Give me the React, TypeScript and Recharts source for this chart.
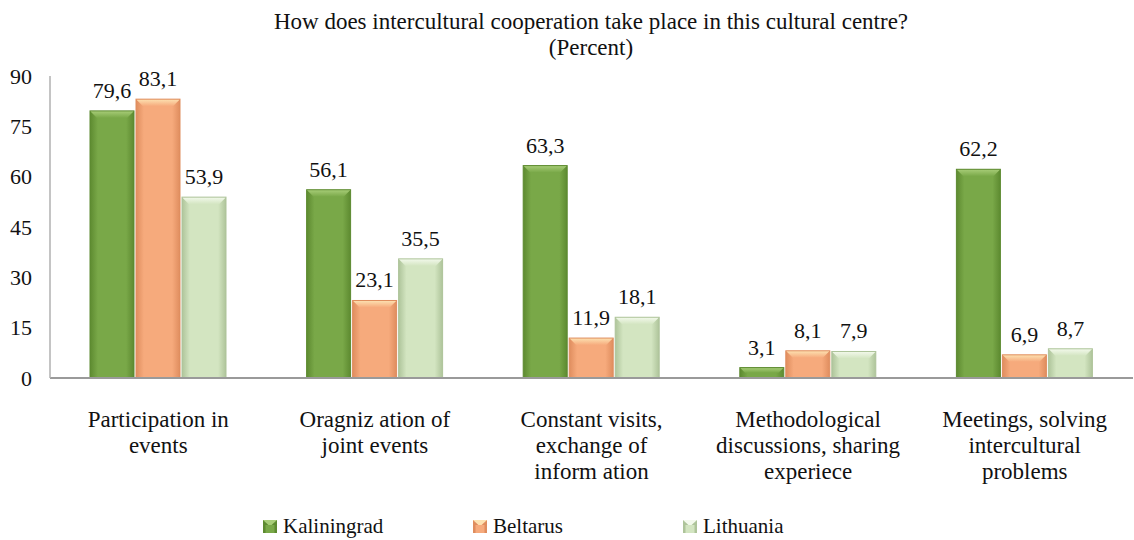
import React from 'react';
import { BarChart, Bar, XAxis, YAxis, LabelList } from 'recharts';

const CATEGORIES = [
  'Participation in\nevents',
  'Oragniz ation of\njoint events',
  'Constant visits,\nexchange of\ninform ation',
  'Methodological\ndiscussions, sharing\nexperiece',
  'Meetings, solving\nintercultural\nproblems',
];
const KALININGRAD = [79.6, 56.1, 63.3, 3.1, 62.2];
const BELTARUS = [83.1, 23.1, 11.9, 8.1, 6.9];
const LITHUANIA = [53.9, 35.5, 18.1, 7.9, 8.7];
const Y_TICKS = [0, 15, 30, 45, 60, 75, 90];

const SERIES = [
  { key: 'kal', name: 'Kaliningrad', base: '#79a848', edge: '#5d8a30', top: '#a8cd78' },
  { key: 'bel', name: 'Beltarus', base: '#f6aa7c', edge: '#df8d5e', top: '#fde2b2' },
  { key: 'lit', name: 'Lithuania', base: '#d3e5c1', edge: '#aec49a', top: '#f3f9ec' },
];

const data = CATEGORIES.map((c, i) => ({
  cat: c,
  kal: KALININGRAD[i],
  bel: BELTARUS[i],
  lit: LITHUANIA[i],
}));

const FONT = 'Liberation Serif';

function bevelShape(s: (typeof SERIES)[number]) {
  return (props: any) => {
    const { x, y, width, height } = props;
    if (!height || height <= 0) return <g />;
    const b = Math.min(7, height / 2, width / 4);
    return (
      <g>
        <rect x={x} y={y} width={width} height={height} fill={`url(#grad-${s.key})`} />
        <polygon
          points={`${x},${y} ${x + width},${y} ${x + width - b},${y + b} ${x + b},${y + b}`}
          fill={`url(#top-${s.key})`}
        />
        <rect x={x} y={y} width={width} height={height} fill="none" stroke={s.edge} strokeWidth={1} />
      </g>
    );
  };
}

const CatTick = (props: any) => {
  const { x, y, payload } = props;
  const lines = String(payload.value).split('\n');
  return (
    <text x={x} y={y + 41} textAnchor="middle" fontFamily={FONT} fontSize={23} fill="#111">
      {lines.map((l, i) => (
        <tspan key={i} x={x} dy={i === 0 ? 0 : 26}>
          {l}
        </tspan>
      ))}
    </text>
  );
};

const fmt = (v: any) => String(v).replace('.', ',');

export default function App() {
  return (
    <div style={{ position: 'absolute', left: 0, top: 0, width: 1134, height: 540, background: '#fff', overflow: 'hidden', fontFamily: FONT }}>
      <div
        style={{
          position: 'absolute',
          left: 191,
          width: 800,
          top: 9,
          textAlign: 'center',
          fontSize: 23,
          lineHeight: '26px',
          color: '#111',
        }}
      >
        How does intercultural cooperation take place in this cultural centre?
        <br />
        (Percent)
      </div>
      <BarChart
        width={1134}
        height={540}
        data={data}
        margin={{ top: 76, right: 1, left: 10, bottom: 42 }}
        barSize={44}
        barGap={2}
      >
        <defs>
          {SERIES.map((s) => (
            <React.Fragment key={s.key}>
              <linearGradient id={`grad-${s.key}`} x1="0" y1="0" x2="1" y2="0">
                <stop offset="0%" stopColor={s.edge} />
                <stop offset="18%" stopColor={s.base} />
                <stop offset="82%" stopColor={s.base} />
                <stop offset="100%" stopColor={s.edge} />
              </linearGradient>
              <linearGradient id={`top-${s.key}`} x1="0" y1="0" x2="0" y2="1">
                <stop offset="0%" stopColor={s.top} />
                <stop offset="100%" stopColor={s.base} />
              </linearGradient>
            </React.Fragment>
          ))}
        </defs>
        <XAxis
          dataKey="cat"
          height={120}
          interval={0}
          tickLine={false}
          axisLine={{ stroke: '#9a9a9a', strokeWidth: 2 }}
          tick={<CatTick />}
        />
        <YAxis
          width={40}
          domain={[0, 90]}
          ticks={Y_TICKS}
          tickLine={false}
          tickMargin={12}
          axisLine={{ stroke: '#b0b0b0', strokeWidth: 1.5 }}
          tick={{ fontFamily: FONT, fontSize: 22, fill: '#111' }}
        />
        {SERIES.map((s) => (
          <Bar key={s.key} dataKey={s.key} name={s.name} fill={s.base} shape={bevelShape(s)} isAnimationActive={false}>
            <LabelList
              dataKey={s.key}
              position="top"
              offset={13}
              formatter={fmt}
              style={{ fontFamily: FONT, fontSize: 22, fill: '#111' }}
            />
          </Bar>
        ))}
      </BarChart>
      <div style={{ position: 'absolute', top: 514, left: 263, display: 'flex', fontSize: 21, color: '#111' }}>
        {SERIES.map((s) => (
          <div key={s.key} style={{ display: 'flex', alignItems: 'center', width: 210, lineHeight: '24px' }}>
            <svg width={14} height={13} style={{ marginRight: 6 }}>
              <rect x={0} y={0} width={14} height={13} fill={s.edge} />
              <polygon points="0,0 14,0 7,6.5" fill={s.top} />
              <rect x={2.5} y={5} width={9} height={8} fill={s.base} />
            </svg>
            <span>{s.name}</span>
          </div>
        ))}
      </div>
    </div>
  );
}
